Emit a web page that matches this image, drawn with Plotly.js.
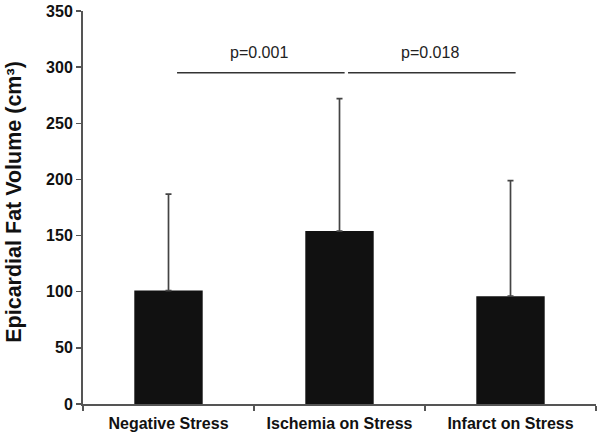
<!DOCTYPE html>
<html>
<head>
<meta charset="utf-8">
<script src="https://cdn.plot.ly/plotly-3.0.1.min.js"></script>
<style>html,body{margin:0;padding:0;background:#fff}#chart{width:601px;height:435px}</style>
</head>
<body>
<div id="chart"></div>
<script>
const categories = ["Negative Stress", "Ischemia on Stress", "Infarct on Stress"];
const means = [101, 154, 96];
const sdUpper = [86, 118, 103];
const comparisons = [[0, 1], [1, 2]];
const pLabels = ["p=0.001", "p=0.018"];
const bracketLevel = 295;
const labelLevel = 313;
const yTicks = [0, 50, 100, 150, 200, 250, 300, 350];
const yTitle = "Epicardial Fat Volume (cm³)";

const trace = {
  type: "bar",
  x: categories,
  y: means,
  width: 0.4,
  marker: {color: "#111111", line: {width: 0}},
  error_y: {
    type: "data", symmetric: false,
    array: sdUpper,
    arrayminus: means.map(() => 0),
    color: "#444444", thickness: 1.7, width: 3
  },
  hoverinfo: "none"
};

const shapes = comparisons.map(([a, b]) => ({
  type: "line", xref: "x", yref: "y",
  x0: a + 0.05, x1: b + 0.03, y0: bracketLevel, y1: bracketLevel,
  line: {color: "#333333", width: 1.3}
}));

const annotations = comparisons.map(([a, b], i) => ({
  xref: "x", yref: "y",
  x: (a + b) / 2 + 0.03, y: labelLevel,
  text: pLabels[i], showarrow: false,
  font: {family: "Liberation Sans, Arial, sans-serif", size: 16, color: "#222222"}
}));
annotations.push({
  xref: "paper", yref: "paper", xanchor: "center", yanchor: "middle",
  x: -0.135, y: 0.514, textangle: -90,
  text: "<b>" + yTitle + "</b>", showarrow: false,
  font: {family: "Liberation Sans, Arial, sans-serif", size: 21.5, color: "#111111"}
});

const layout = {
  width: 601, height: 435,
  margin: {l: 83, r: 5, t: 11, b: 31},
  paper_bgcolor: "#ffffff", plot_bgcolor: "#ffffff",
  showlegend: false,
  font: {family: "Liberation Sans, Arial, sans-serif"},
  xaxis: {
    type: "category", range: [-0.5, 2.5],
    tickson: "boundaries", ticks: "outside", ticklen: 5, tickwidth: 1.5, tickcolor: "#555",
    ticklabelstandoff: 4,
    showline: true, linecolor: "#555", linewidth: 2,
    showgrid: false, zeroline: false,
    tickfont: {family: "Liberation Sans, Arial, sans-serif", size: 16, color: "#111", weight: "bold"}
  },
  yaxis: {
    range: [0, 350], tickvals: yTicks, ticktext: yTicks.map(String),
    ticks: "outside", ticklen: 5, tickwidth: 1.5, tickcolor: "#555",
    showline: true, linecolor: "#555", linewidth: 2,
    showgrid: false, zeroline: false,
    tickfont: {family: "Liberation Sans, Arial, sans-serif", size: 16, color: "#111", weight: "bold"}
  },
  shapes: shapes,
  annotations: annotations
};

Plotly.newPlot("chart", [trace], layout, {displayModeBar: false, staticPlot: true});
</script>
</body>
</html>
